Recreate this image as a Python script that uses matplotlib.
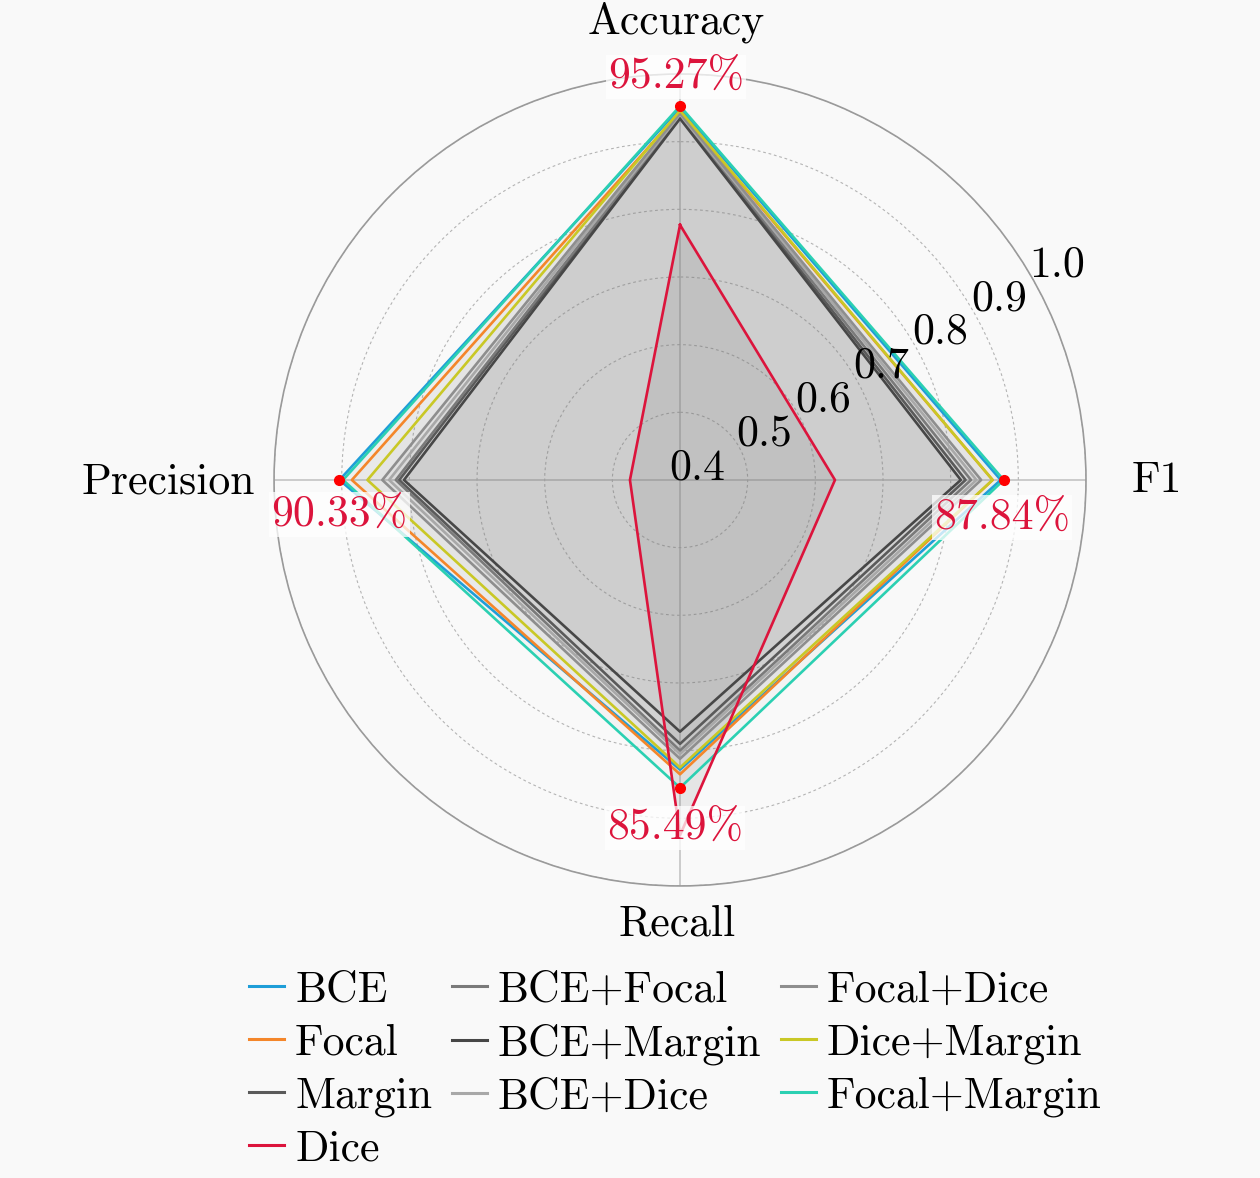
import numpy as np
import matplotlib
matplotlib.use('Agg')
import matplotlib.pyplot as plt
from matplotlib.lines import Line2D

plt.rcParams['font.family'] = ['cmr10', 'DejaVu Serif']
plt.rcParams['mathtext.fontset'] = 'cm'
plt.rcParams['axes.formatter.use_mathtext'] = True

# ---------------- data ----------------
categories = ['Accuracy', 'Precision', 'Recall', 'F1']
series_names = ['BCE', 'Focal', 'Margin', 'Dice', 'BCE+Focal', 'BCE+Margin',
                'BCE+Dice', 'Focal+Dice', 'Dice+Margin', 'Focal+Margin']
bce = [0.950, 0.9033, 0.828, 0.874]
focal = [0.944, 0.885, 0.835, 0.862]
margin = [0.936, 0.815, 0.790, 0.822]
dice = [0.777, 0.474, 0.925, 0.629]
bce_focal = [0.938, 0.820, 0.800, 0.830]
bce_margin = [0.934, 0.808, 0.772, 0.815]
bce_dice = [0.940, 0.830, 0.805, 0.838]
focal_dice = [0.942, 0.840, 0.812, 0.845]
dice_margin = [0.946, 0.862, 0.825, 0.862]
focal_margin = [0.9527, 0.898, 0.8549, 0.8784]
series_values = [bce, focal, margin, dice, bce_focal, bce_margin,
                 bce_dice, focal_dice, dice_margin, focal_margin]
series_colors = ['#1f9ed8', '#f4862a', '#5a5a5a', '#dc143c', '#7a7a7a',
                 '#474747', '#a8a8a8', '#8e8e8e', '#c9c826', '#2bd0b2']

best_values = [0.9527, 0.9033, 0.8549, 0.8784]
best_labels = ['95.27%', '90.33%', '85.49%', '87.84%']

r_ticks = [0.4, 0.5, 0.6, 0.7, 0.8, 0.9, 1.0]
r_tick_labels = ['0.4', '0.5', '0.6', '0.7', '0.8', '0.9', '1.0']

# ---------------- figure ----------------
bg = '#f9f9f9'
fig = plt.figure(figsize=(12.6, 11.78), dpi=100, facecolor=bg)
ax = fig.add_axes([0.2175, 0.2479, 0.6444, 0.6893], projection='polar', facecolor=bg)
ax.set_theta_zero_location('N')
ax.set_theta_direction(1)

angles = np.linspace(0, 2 * np.pi, len(categories), endpoint=False)
angles_closed = np.concatenate([angles, angles[:1]])

ax.set_ylim(0.4, 1.0)
ax.set_yticks(r_ticks)
ax.set_yticklabels([])
ax.set_xticks(angles)
ax.set_xticklabels([])
ax.tick_params(axis='both', length=0)
ax.yaxis.grid(True, color='#b4b4b4', linestyle=(0, (2.5, 2.5)), linewidth=0.8)
ax.xaxis.grid(True, color='#c4c4c4', linestyle='-', linewidth=1.2)
ax.spines['polar'].set_color('#9a9a9a')
ax.spines['polar'].set_linewidth(1.2)
ax.set_axisbelow(True)

# fills
for name, vals in zip(series_names, series_values):
    v = np.concatenate([vals, vals[:1]])
    a = 0.16 if name == 'Dice' else 0.042
    ax.fill(angles_closed, v, color='#808080', alpha=a, linewidth=0, zorder=1)

# lines
handles = []
for name, vals, col in zip(series_names, series_values, series_colors):
    v = np.concatenate([vals, vals[:1]])
    z = 4 if name == 'Dice' else 3
    ax.plot(angles_closed, v, color=col, linewidth=1.9, zorder=z)
    handles.append(Line2D([], [], color=col, linewidth=2.2, label=name))

# best-value dots and labels
ax.plot(angles, best_values, linestyle='none', marker='o', markersize=7,
        color='#ff0000', zorder=6)
pct_offsets = [(-3, 21), (0, -25), (-3.6, -29), (-1.4, -27)]
for ang, val, lab, off in zip(angles, best_values, best_labels, pct_offsets):
    ax.annotate(lab, xy=(ang, val), xytext=off, textcoords='offset points',
                ha='center', va='center', fontsize=31.5, color='#dc143c',
                zorder=7, annotation_clip=False,
                bbox=dict(boxstyle='square,pad=0.05', facecolor='white',
                          edgecolor='none', alpha=0.75))

# radial tick labels
rlab_angle = np.deg2rad(-60)
for t, lab in zip(r_ticks, r_tick_labels):
    off = (-8, -6) if t == r_ticks[0] else (-1.5, -6)
    ax.annotate(lab, xy=(rlab_angle, t), xytext=off, textcoords='offset points',
                ha='left', va='bottom', fontsize=31.5, color='black',
                zorder=8, annotation_clip=False)

# category labels
cat_specs = [((-3, 37), 'center', 'center'),
             ((-13.7, -2), 'right', 'center'),
             ((-2, -28), 'center', 'center'),
             ((33, -1), 'left', 'center')]
for ang, lab, (off, ha, va) in zip(angles, categories, cat_specs):
    ax.annotate(lab, xy=(ang, 1.0), xytext=off, textcoords='offset points',
                ha=ha, va=va, fontsize=31.5, color='black',
                annotation_clip=False)

fig.legend(handles=handles, ncol=3, loc='upper center',
           bbox_to_anchor=(0.536, 0.176), frameon=False, fontsize=31.5,
           handlelength=0.8, handletextpad=0.25, columnspacing=0.45,
           labelspacing=0.29, borderaxespad=0, borderpad=0)

fig.savefig('out.png', dpi=100, facecolor=bg)
